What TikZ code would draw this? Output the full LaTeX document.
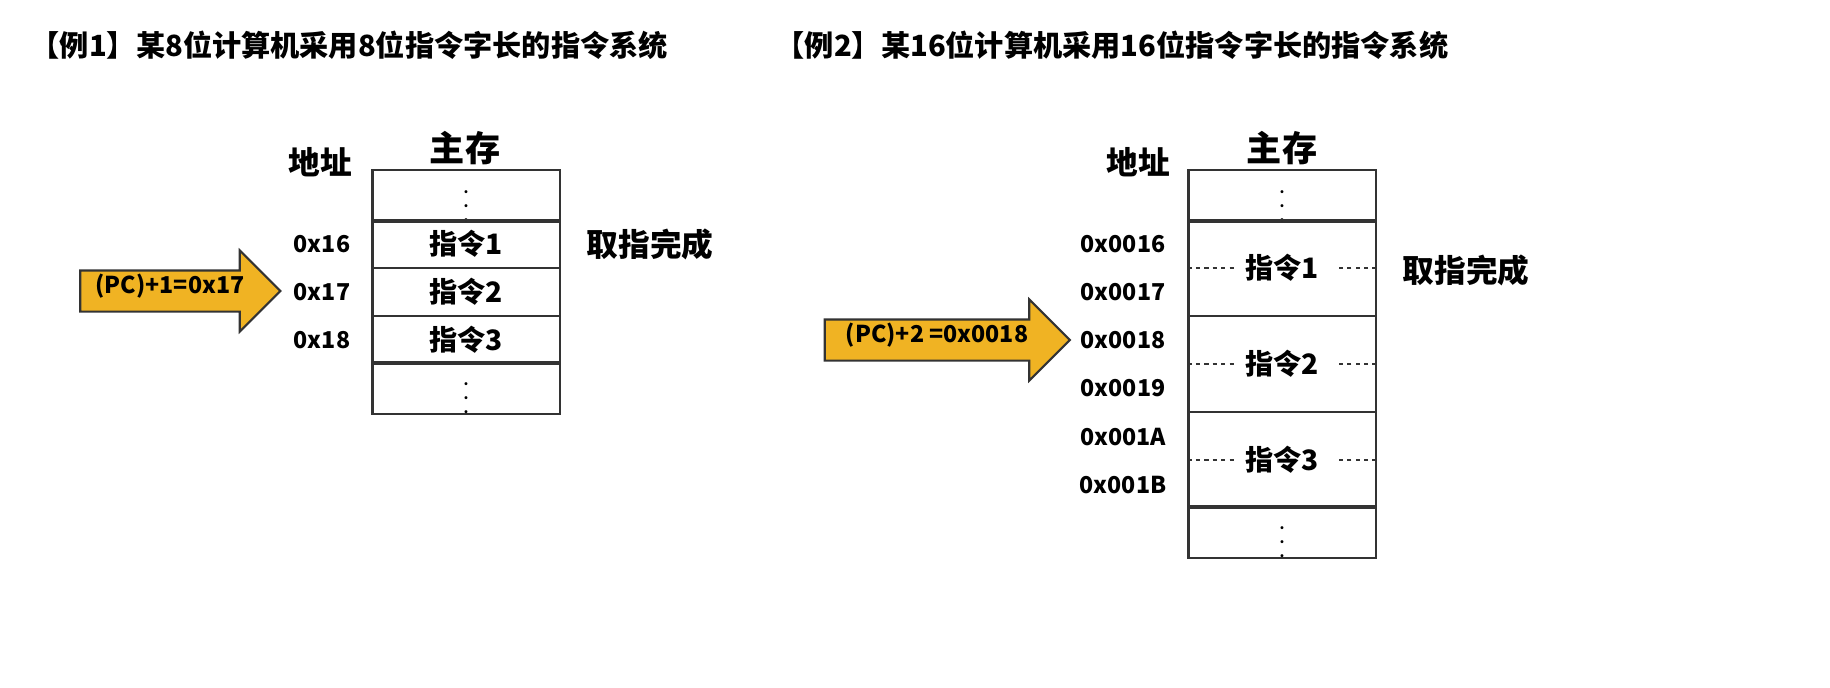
\documentclass[tikz,border=0pt]{standalone}
\usepackage{fontspec}
\setmainfont{Noto Sans CJK SC}
\usetikzlibrary{shapes.arrows, positioning}
\definecolor{PcOrange}{HTML}{F0B323}
\definecolor{CellLine}{HTML}{333333}

\tikzset{
  cell/.style={draw=CellLine, line width=0.6pt, minimum width=1.87cm, inner sep=0pt, font=\fontsize{8}{9}\selectfont\bfseries},
  addr/.style={font=\fontsize{6.6}{8}\selectfont\bfseries, inner sep=0pt},
  head/.style={font=\fontsize{9}{11}\selectfont\bfseries, inner sep=0pt},
  title/.style={font=\fontsize{8.3}{10}\selectfont\bfseries, inner sep=0pt, anchor=west},
  pcarrow/.style={single arrow, draw=CellLine, fill=PcOrange, line width=0.6pt,
    minimum width=0.8cm, single arrow head extend=0.2cm, inner xsep=2pt, inner ysep=0pt,
    text height=0.22cm, text depth=0.17cm, font=\fontsize{6.6}{8}\selectfont\bfseries},
  half/.style={dash pattern=on 1.2pt off 1.2pt, line width=0.4pt, CellLine}
}
\newcommand{\celldots}{{\fontsize{4}{4}\selectfont$\vdots$}}

\begin{document}
\begin{tikzpicture}[x=0.01cm, y=-0.01cm]
  \useasboundingbox (0,0) rectangle (1830,687);

  % titles
  \node[title] (t1) at (30,45) {【例1】某8位计算机采用8位指令字长的指令系统};
  \node[title] (t2) at (775,45) {【例2】某16位计算机采用16位指令字长的指令系统};

  % Example 1 memory
  \node[head, font=\fontsize{10}{12}\selectfont\bfseries] (mem1) at (465,148) {主存};
  \node[head] (adr1) at (320,162) {地址};
  \node[cell, minimum height=0.48cm] (a0) at (466,196) {\celldots};
  \node[cell, minimum height=0.48cm] (a1) at (466,244) {指令1};
  \node[cell, minimum height=0.48cm] (a2) at (466,292) {指令2};
  \node[cell, minimum height=0.48cm] (a3) at (466,340) {指令3};
  \node[cell, minimum height=0.48cm] (a4) at (466,388) {\celldots};
  \node[addr] (x16) at (322,244) {0x16};
  \node[addr] (x17) at (322,292) {0x17};
  \node[addr] (x18) at (322,340) {0x18};
  \node[head] (done1) at (650,244) {取指完成};
  \node[pcarrow, minimum height=2cm] (pc1) at (170,291) {(PC)+1=0x17};

  % Example 2 memory
  \node[head, font=\fontsize{10}{12}\selectfont\bfseries] (mem2) at (1282,148) {主存};
  \node[head] (adr2) at (1138,162) {地址};
  \node[cell, minimum height=0.48cm] (b0) at (1282,196) {\celldots};
  \node[cell, minimum height=0.96cm] (b1) at (1282,268) {指令1};
  \node[cell, minimum height=0.96cm] (b2) at (1282,364) {指令2};
  \node[cell, minimum height=0.96cm] (b3) at (1282,460) {指令3};
  \node[cell, minimum height=0.48cm] (b4) at (1282,532) {\celldots};
  \foreach \n in {b1,b2,b3}{
    \draw[half] (\n.west) -- ++(48,0);
    \draw[half] (\n.east) -- ++(-40,0);
  }
  \node[addr] (y16) at (1123,244) {0x0016};
  \node[addr] (y17) at (1123,292) {0x0017};
  \node[addr] (y18) at (1123,340) {0x0018};
  \node[addr] (y19) at (1123,388) {0x0019};
  \node[addr] (y1a) at (1123,437) {0x001A};
  \node[addr] (y1b) at (1123,485) {0x001B};
  \node[head] (done2) at (1466,270) {取指完成};
  \node[pcarrow, minimum height=2.45cm] (pc2) at (937,340) {(PC)+2 =0x0018};
\end{tikzpicture}
\end{document}
